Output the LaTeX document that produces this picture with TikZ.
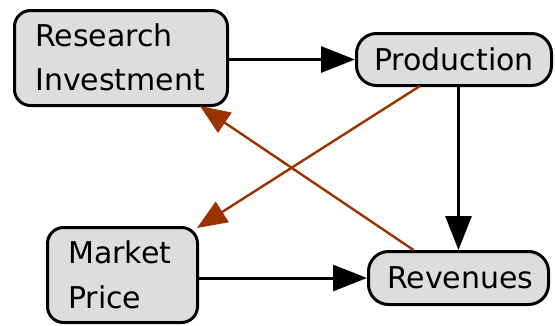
\documentclass[tikz,border=0pt]{standalone}
\usepackage{fontspec}
\setmainfont{DejaVu Sans}
\usetikzlibrary{arrows.meta,calc}
\definecolor{boxgray}{RGB}{221,221,221}
\definecolor{rust}{RGB}{153,51,0}
\tikzset{
  box/.style={draw=black, fill=boxgray, line width=3pt, rounded corners=16pt, inner sep=0pt},
  pill/.style={box, rounded corners=20pt},
  label/.style={anchor=base west, inner sep=0pt, font=\fontsize{30}{36}\selectfont},
  flow/.style={line width=3pt, -{Triangle[length=34pt,width=26pt]}},
  feedback/.style={draw=rust, line width=2.4pt, -{Triangle[length=30pt,width=24pt]}}
}
\begin{document}
\begin{tikzpicture}[x=1pt,y=-1pt]
  \useasboundingbox (0,0) rectangle (555,325);

  % boxes
  \node[box, minimum width=213pt, minimum height=95pt] (ri) at (121,58) {};
  \node[pill, minimum width=195pt, minimum height=52pt] (prod) at (454,59.5) {};
  \node[box, minimum width=150pt, minimum height=95pt] (mp) at (122.5,275) {};
  \node[pill, minimum width=180pt, minimum height=53pt] (rev) at (458.5,278) {};

  % box texts
  \node[label] (riA) at (35,46) {Research};
  \node[label] (riB) at (35,90) {Investment};
  \node[label] (prodT) at (374,70) {Production};
  \node[label] (mpA) at (68,263) {Market};
  \node[label] (mpB) at (68,308) {Price};
  \node[label] (revT) at (387,288) {Revenues};

  % main flows
  \draw[flow] (ri.east |- prod.west) -- (prod.west);
  \draw[flow] (rev.west -| mp.east) -- (rev.west);
  \draw[flow] (prod.south -| rev.north) -- (rev.north);

  % feedback links
  \draw[feedback] ([xshift=-45pt]rev.north) -- ([xshift=-29pt,yshift=1pt]ri.south east);
  \draw[feedback] ([xshift=-34pt,yshift=1pt]prod.south) -- ([xshift=-2pt,yshift=-2pt]mp.north east);
\end{tikzpicture}
\end{document}
